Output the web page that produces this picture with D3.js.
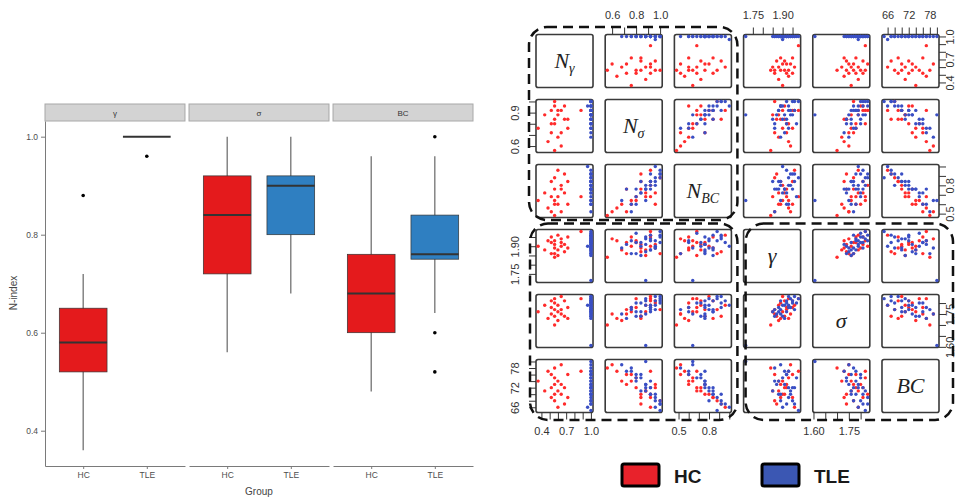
<!DOCTYPE html>
<html>
<head>
<meta charset="utf-8">
<script src="https://cdn.jsdelivr.net/npm/d3@7"></script>
<style>
body { margin: 0; background: #fff; }
svg { display: block; font-family: "Liberation Sans", Arial, sans-serif; }
</style>
</head>
<body>
<div id="chart"></div>
<script>
// ---- boxplot stats (N-index), [facet][group] ----
const facets = ['γ', 'σ', 'BC'];
const groups = ['HC', 'TLE'];
const whiskerLow  = [[0.36, 1.00], [0.56, 0.68], [0.48, 0.64]];
const q1          = [[0.52, 1.00], [0.72, 0.80], [0.60, 0.75]];
const median      = [[0.58, 1.00], [0.84, 0.90], [0.68, 0.76]];
const q3          = [[0.65, 1.00], [0.92, 0.92], [0.76, 0.84]];
const whiskerHigh = [[0.72, 1.00], [1.00, 1.00], [0.96, 0.96]];
const outliers    = [[[0.88], [0.96]], [[], []], [[], [1.00, 0.60, 0.52]]];
const yTicks = [0.4, 0.6, 0.8, 1.0];

// ---- scatter matrix subjects ----
const vars = ['Nγ', 'Nσ', 'NBC', 'γ', 'σ', 'BC'];
const hcNgamma = [0.36,0.44,0.48,0.52,0.52,0.52,0.56,0.56,0.56,0.56,0.56,0.60,0.60,0.60,0.64,0.64,0.64,0.68,0.68,0.72,0.72,0.88];
const hcNsigma = [0.76,0.88,0.64,0.92,0.72,0.80,0.56,0.96,0.84,0.80,1.00,0.68,0.92,0.88,0.60,0.92,0.72,0.84,0.96,0.76,0.84,0.92];
const hcNbc    = [0.64,0.72,0.56,0.84,0.52,0.68,0.48,0.60,0.76,0.64,0.88,0.60,0.96,0.68,0.52,0.80,0.76,0.92,0.72,0.60,0.84,0.68];
const hcGamma  = [1.90,1.88,1.93,1.95,1.86,1.92,1.84,1.89,1.91,1.93,1.86,1.88,1.96,1.85,1.94,1.90,1.92,1.87,1.91,1.95,1.89,1.98];
const hcSigma  = [1.76,1.79,1.73,1.81,1.75,1.78,1.70,1.80,1.74,1.82,1.77,1.72,1.79,1.76,1.75,1.83,1.77,1.74,1.81,1.78,1.73,1.82];
const hcBC     = [74,71,77,69,76,72,78,73,70,75,68,74,66,71,79,70,73,67,72,76,69,77];

const tleNgamma = [1.00,1.00,1.00,1.00,1.00,1.00,1.00,1.00,1.00,1.00,1.00,0.96,1.00,1.00,1.00,1.00,1.00,1.00,1.00,1.00,1.00,1.00,1.00,1.00,1.00,1.00,1.00,1.00];
const tleNsigma = [0.88,0.84,0.76,0.92,0.80,0.96,0.88,1.00,0.92,0.88,0.72,0.96,0.92,1.00,0.84,0.80,0.96,0.68,0.92,1.00,0.80,0.88,0.96,0.84,0.92,0.88,0.76,1.00];
const tleNbc    = [0.64,0.72,0.52,0.80,0.60,0.84,0.76,0.92,0.76,0.80,0.76,1.00,0.84,0.96,0.84,0.68,0.88,0.64,0.92,0.88,0.76,0.76,0.80,0.72,0.84,0.76,0.60,0.92];
const tleGamma  = [1.714,1.90,1.86,1.93,1.92,1.89,1.87,1.95,1.88,1.94,1.91,1.90,1.96,1.92,1.85,1.97,1.93,1.89,1.94,1.98,1.86,1.91,1.89,1.92,1.88,1.95,1.93,1.96];
const tleSigma  = [1.606,1.74,1.77,1.79,1.76,1.81,1.75,1.80,1.78,1.82,1.73,1.79,1.77,1.81,1.76,1.80,1.83,1.75,1.78,1.82,1.74,1.79,1.77,1.80,1.76,1.81,1.78,1.83];
const tleBC     = [80,75,78,72,76,70,73,68,74,71,77,66,72,67,71,75,69,79,70,65,74,73,68,76,70,72,77,67];

const tickVals = [
  [0.4,0.5,0.6,0.7,0.8,0.9,1.0], [0.6,0.7,0.8,0.9,1.0], [0.5,0.6,0.7,0.8,0.9,1.0],
  [1.75,1.80,1.85,1.90,1.95], [1.60,1.65,1.70,1.75,1.80], [66,68,70,72,74,76,78,80]
];
const labelsH = [['0.4','0.7','1.0'], ['0.6','0.8','1.0'], ['0.5','0.8'], ['1.75','1.90'], ['1.60','1.75'], ['66','72','78']];
const labelsV = [['0.4','0.7','1.0'], ['0.6','0.9'], ['0.5','0.8'], ['1.75','1.90'], ['1.60','1.75'], ['66','72','78']];
const diagMain = ['N', 'N', 'N', 'γ', 'σ', 'BC'];
const diagSub  = ['γ', 'σ', 'BC', '', '', ''];

const svg = d3.select('#chart').append('svg').attr('width', 965).attr('height', 500);

// ================= left: faceted boxplot =================
const yN = d3.scaleLinear().domain([0.328, 1.032]).range([466, 121]);
const facetX = d3.scaleBand().domain(facets).range([45, 473]).paddingInner(0.028);
const groupX = d3.scalePoint().domain(groups).range([0, facetX.bandwidth()]).padding(0.6);
const boxW = groupX.step() * 0.75;
const boxFill = { HC: '#E41A1C', TLE: '#2F7FC1' };

facets.forEach((f, fi) => {
  const g = svg.append('g').attr('transform', `translate(${facetX(f)},0)`);
  g.append('rect')
    .attr('x', 0).attr('y', 104)
    .attr('width', facetX.bandwidth()).attr('height', 17)
    .attr('fill', '#d3d3d3').attr('stroke', '#a8a8a8');
  g.append('text')
    .attr('x', facetX.bandwidth() / 2).attr('y', 115.5)
    .attr('text-anchor', 'middle').attr('font-size', 8).attr('fill', '#333')
    .text(f);

  groups.forEach((gr, gi) => {
    const cx = groupX(gr);
    g.append('line')
      .attr('x1', cx).attr('x2', cx)
      .attr('y1', yN(whiskerLow[fi][gi])).attr('y2', yN(whiskerHigh[fi][gi]))
      .attr('stroke', '#666').attr('stroke-width', 1.2);
    g.append('rect')
      .attr('x', cx - boxW / 2).attr('y', yN(q3[fi][gi]))
      .attr('width', boxW).attr('height', yN(q1[fi][gi]) - yN(q3[fi][gi]))
      .attr('fill', boxFill[gr]).attr('stroke', '#333').attr('stroke-width', 0.7);
    g.append('line')
      .attr('x1', cx - boxW / 2).attr('x2', cx + boxW / 2)
      .attr('y1', yN(median[fi][gi])).attr('y2', yN(median[fi][gi]))
      .attr('stroke', '#333').attr('stroke-width', 2);
    g.selectAll(null).data(outliers[fi][gi]).enter().append('circle')
      .attr('cx', cx).attr('cy', d => yN(d)).attr('r', 1.8).attr('fill', '#000');
  });

  const xa = g.append('g').attr('transform', 'translate(0,466)')
    .call(d3.axisBottom(groupX).tickSize(3).tickSizeOuter(0));
  xa.selectAll('.domain, .tick line').attr('stroke', '#7a7a7a');
  xa.selectAll('text').attr('font-size', 8.5).attr('fill', '#4d4d4d')
    .attr('font-family', '"Liberation Sans", Arial, sans-serif');
});

const ya = svg.append('g').attr('transform', 'translate(45,0)')
  .call(d3.axisLeft(yN).tickValues(yTicks).tickFormat(d3.format('.1f')).tickSize(4).tickSizeOuter(0));
ya.selectAll('.domain, .tick line').attr('stroke', '#7a7a7a');
ya.selectAll('text').attr('font-size', 8.5).attr('fill', '#4d4d4d')
  .attr('font-family', '"Liberation Sans", Arial, sans-serif');

svg.append('text')
  .attr('transform', 'translate(17,293) rotate(-90)')
  .attr('text-anchor', 'middle').attr('font-size', 10).attr('fill', '#444')
  .text('N-index');
svg.append('text')
  .attr('x', 259).attr('y', 495)
  .attr('text-anchor', 'middle').attr('font-size', 10).attr('fill', '#444')
  .text('Group');

// ================= right: scatterplot matrix =================
const hcCols = [hcNgamma, hcNsigma, hcNbc, hcGamma, hcSigma, hcBC];
const tleCols = [tleNgamma, tleNsigma, tleNbc, tleGamma, tleSigma, tleBC];
const fmts = [d3.format('.1f'), d3.format('.1f'), d3.format('.1f'), d3.format('.2f'), d3.format('.2f'), d3.format('d')];

const doms = vars.map((v, k) => {
  const ext = d3.extent(hcCols[k].concat(tleCols[k]));
  const pad = (ext[1] - ext[0]) * 0.04;
  return [ext[0] - pad, ext[1] + pad];
});

const colBand = d3.scaleBand().domain(d3.range(6)).range([536, 939]).paddingInner(0.176);
const rowBand = d3.scaleBand().domain(d3.range(6)).range([34.5, 412.5]).paddingInner(0.185);
const bw = colBand.bandwidth(), bh = rowBand.bandwidth();

const ptColor = { HC: '#FF2B2B', TLE: '#3A4FC4' };

function styleAxis(a) {
  a.select('.domain').remove();
  a.selectAll('.tick line').attr('stroke', '#333');
  a.selectAll('text').attr('font-size', 11).attr('fill', '#333')
    .attr('font-family', '"Liberation Sans", Arial, sans-serif');
}

for (let i = 0; i < 6; i++) {
  for (let j = 0; j < 6; j++) {
    const g = svg.append('g').attr('transform', `translate(${colBand(j)},${rowBand(i)})`);
    const px = d3.scaleLinear().domain(doms[j]).range([0, bw]);
    const py = d3.scaleLinear().domain(doms[i]).range([bh, 0]);

    g.append('rect').attr('width', bw).attr('height', bh).attr('rx', 2)
      .attr('fill', '#fff').attr('stroke', '#3a3a3a').attr('stroke-width', 1.6);

    if (i === j) {
      const t = g.append('text')
        .attr('x', bw / 2).attr('y', bh / 2 + 7)
        .attr('text-anchor', 'middle')
        .attr('font-family', '"Liberation Serif", "DejaVu Serif", serif')
        .attr('font-style', 'italic').attr('fill', '#222');
      t.append('tspan').attr('font-size', 22).text(diagMain[i]);
      if (diagSub[i]) t.append('tspan').attr('font-size', 14).attr('dy', 5).text(diagSub[i]);
    } else {
      [['HC', hcCols], ['TLE', tleCols]].forEach(([gr, cols]) => {
        g.selectAll(null).data(d3.range(cols[0].length)).enter().append('circle')
          .attr('cx', k => px(cols[j][k]))
          .attr('cy', k => py(cols[i][k]))
          .attr('r', 1.7)
          .attr('fill', ptColor[gr]);
      });
    }

    // axes like R pairs(): alternating sides
    if (i === 0 && j % 2 === 1) {
      const a = g.append('g').call(d3.axisTop(px).tickValues(tickVals[j]).tickSize(7).tickPadding(9)
        .tickFormat(d => labelsH[j].includes(fmts[j](d)) ? fmts[j](d) : ''));
      styleAxis(a);
    }
    if (i === 5 && j % 2 === 0) {
      const a = g.append('g').attr('transform', `translate(0,${bh})`)
        .call(d3.axisBottom(px).tickValues(tickVals[j]).tickSize(7).tickPadding(8)
        .tickFormat(d => labelsH[j].includes(fmts[j](d)) ? fmts[j](d) : ''));
      styleAxis(a);
    }
    if (j === 0 && i % 2 === 1) {
      const a = g.append('g').call(d3.axisLeft(py).tickValues(tickVals[i]).tickSize(7)
        .tickFormat(d => labelsV[i].includes(fmts[i](d)) ? fmts[i](d) : ''));
      styleAxis(a);
      a.selectAll('text').attr('transform', 'rotate(-90)').attr('x', 0).attr('y', -17)
        .attr('dy', 0).attr('text-anchor', 'middle');
    }
    if (j === 5 && i % 2 === 0) {
      const a = g.append('g').attr('transform', `translate(${bw},0)`)
        .call(d3.axisRight(py).tickValues(tickVals[i]).tickSize(7)
        .tickFormat(d => labelsV[i].includes(fmts[i](d)) ? fmts[i](d) : ''));
      styleAxis(a);
      a.selectAll('text').attr('transform', 'rotate(-90)').attr('x', 0).attr('y', 15)
        .attr('dy', 0).attr('text-anchor', 'middle');
    }
  }
}

// dashed group outlines
const blocks = [
  { c0: 0, c1: 2, r0: 0, r1: 2, l: 7, r: 6, t: 7.5, b: 2.5 },
  { c0: 0, c1: 2, r0: 3, r1: 5, l: 6, r: 6, t: 6, b: 7.5 },
  { c0: 3, c1: 5, r0: 3, r1: 5, l: -2, r: 14, t: 6, b: 7.5 }
];
blocks.forEach(bk => {
  const x0 = colBand(bk.c0) - bk.l, x1 = colBand(bk.c1) + bw + bk.r;
  const y0 = rowBand(bk.r0) - bk.t, y1 = rowBand(bk.r1) + bh + bk.b;
  svg.append('rect')
    .attr('x', x0).attr('y', y0).attr('width', x1 - x0).attr('height', y1 - y0)
    .attr('rx', 18).attr('fill', 'none')
    .attr('stroke', '#111').attr('stroke-width', 2.5).attr('stroke-dasharray', '10,6');
});

// legend
const legendItems = [['HC', '#E8222B', 622], ['TLE', '#3B57B3', 762]];
legendItems.forEach(([lab, col, x]) => {
  svg.append('rect').attr('x', x).attr('y', 464).attr('width', 37).attr('height', 22).attr('rx', 2)
    .attr('fill', col).attr('stroke', '#000').attr('stroke-width', 3);
  svg.append('text').attr('x', x + 52).attr('y', 483)
    .attr('font-size', 19).attr('font-weight', 'bold').attr('fill', '#1a1a1a')
    .text(lab);
});
</script>
</body>
</html>
